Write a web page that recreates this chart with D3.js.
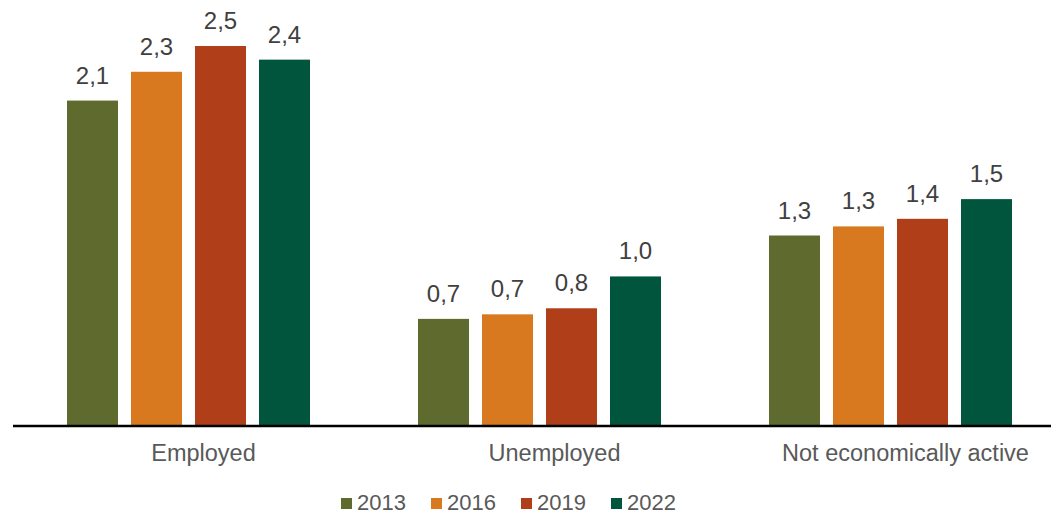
<!DOCTYPE html>
<html>
<head>
<meta charset="utf-8">
<script src="https://cdn.jsdelivr.net/npm/d3@7"></script>
<style>
  html, body { margin: 0; padding: 0; background: #ffffff; }
  svg { display: block; font-family: "Liberation Sans", Arial, sans-serif; }
</style>
</head>
<body>
<svg id="chart" width="1051" height="515"></svg>
<script>
// Categories and series
const categories = ["Employed", "Unemployed", "Not economically active"];
const years = ["2013", "2016", "2019", "2022"];
const values2013 = [2.14, 0.70, 1.25];
const values2016 = [2.33, 0.73, 1.31];
const values2019 = [2.50, 0.77, 1.36];
const values2022 = [2.41, 0.98, 1.49];
const colors = ["#5E6A2E", "#D9791F", "#B03F19", "#01553C"];

const seriesValues = [values2013, values2016, values2019, values2022];

const svg = d3.select("#chart");
const baseY = 425;

const x0 = d3.scaleBand().domain(categories).range([13, 1066]).padding(0);
const x1 = d3.scaleBand().domain(years)
  .range([47.5, 303.5])
  .paddingInner(0.203)
  .paddingOuter(0.1016);
const y = d3.scaleLinear().domain([0, 2.5]).range([baseY, 46]);

const fmt = v => d3.format(".1f")(v).replace(".", ",");

const groups = svg.append("g").selectAll("g")
  .data(categories)
  .join("g")
  .attr("transform", d => `translate(${x0(d)},0)`);

groups.each(function (cat, ci) {
  const g = d3.select(this);
  const rows = years.map((yr, si) => ({ yr, si, v: seriesValues[si][ci] }));
  g.selectAll("rect")
    .data(rows)
    .join("rect")
    .attr("x", d => x1(d.yr))
    .attr("width", x1.bandwidth())
    .attr("y", d => y(d.v))
    .attr("height", d => baseY - y(d.v))
    .attr("fill", d => colors[d.si]);
  g.selectAll("text")
    .data(rows)
    .join("text")
    .attr("x", d => x1(d.yr) + x1.bandwidth() / 2)
    .attr("y", d => y(d.v) - 17)
    .attr("text-anchor", "middle")
    .attr("font-size", 24)
    .attr("fill", "#404040")
    .text(d => fmt(d.v));
});

// Category axis
const xAxis = svg.append("g")
  .attr("transform", `translate(0,${baseY + 1})`)
  .call(d3.axisBottom(x0).tickSize(0).tickPadding(0));
xAxis.select(".domain").remove();
xAxis.append("line")
  .attr("x1", 13).attr("x2", 1051)
  .attr("y1", 0).attr("y2", 0)
  .attr("stroke", "#000").attr("stroke-width", 2.5);
xAxis.selectAll(".tick text")
  .attr("x", 15)
  .attr("y", 35)
  .attr("dy", 0)
  .attr("font-size", 23.5)
  .attr("font-family", "Liberation Sans, Arial, sans-serif")
  .attr("fill", "#595959");

// Legend
const legend = svg.append("g").attr("transform", "translate(341,497)");
const legendX = d3.scalePoint().domain(years).range([0, 270]);
const items = legend.selectAll("g")
  .data(years)
  .join("g")
  .attr("transform", d => `translate(${legendX(d)},0)`);
items.append("rect")
  .attr("width", 11).attr("height", 11)
  .attr("y", 1)
  .attr("fill", (d, i) => colors[i]);
items.append("text")
  .attr("x", 16)
  .attr("y", 13)
  .attr("font-size", 22)
  .attr("fill", "#595959")
  .text(d => d);
</script>
</body>
</html>
